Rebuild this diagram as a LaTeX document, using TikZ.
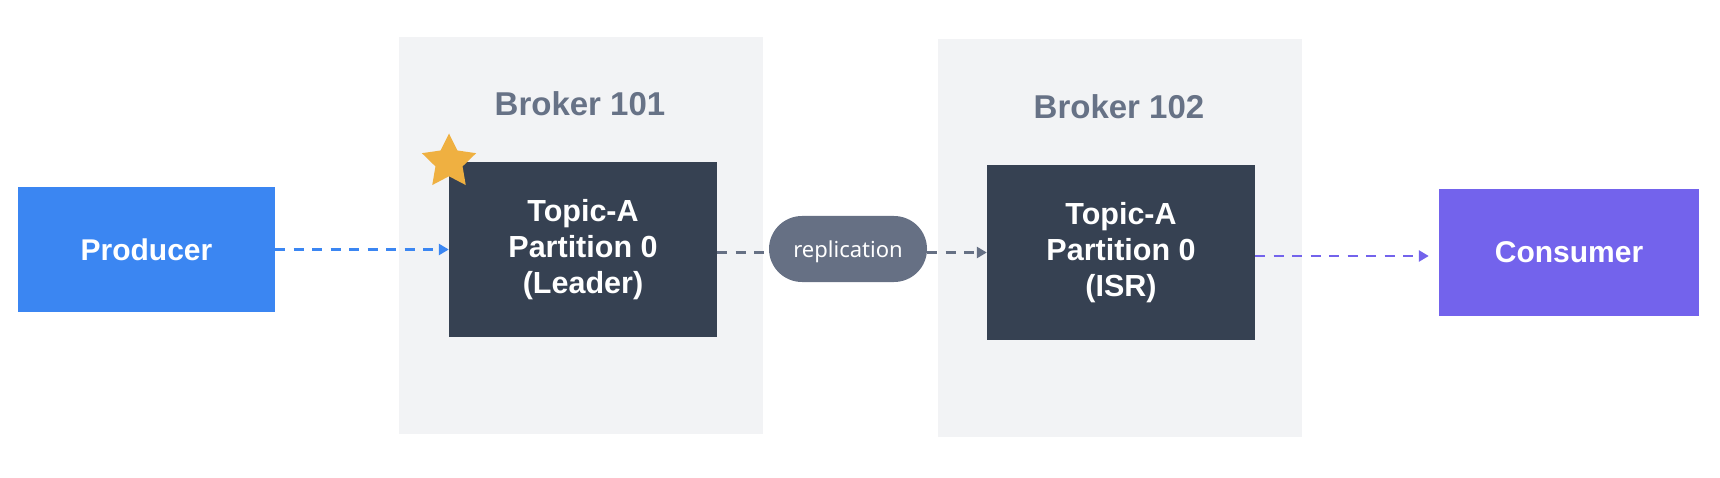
\documentclass[tikz,border=0pt]{standalone}
\usepackage{fontspec}
\setmainfont{Liberation Sans}
\newfontfamily\pillfont{Noto Sans}
\usetikzlibrary{shapes.geometric,arrows.meta}
\definecolor{prodblue}{HTML}{3B86F2}
\definecolor{consviolet}{HTML}{7363EC}
\definecolor{darkbox}{HTML}{364152}
\definecolor{brokerbg}{HTML}{F2F3F5}
\definecolor{titlegray}{HTML}{677286}
\definecolor{pillgray}{HTML}{667084}
\definecolor{stargold}{HTML}{EFB041}
\begin{document}
\begin{tikzpicture}[x=1pt,y=-1pt,
  brokerbox/.style={fill=brokerbg, draw=none, inner sep=0pt},
  partbox/.style={fill=darkbox, draw=none, inner sep=0pt, minimum width=268pt, minimum height=175pt,
    text=white, align=center, font=\fontsize{30.5}{36}\selectfont\bfseries},
  clientbox/.style={draw=none, inner sep=0pt, text=white, font=\fontsize{30}{34}\selectfont\bfseries},
  titletext/.style={text=titlegray, anchor=base, font=\fontsize{33}{40}\selectfont\bfseries},
  pillnode/.style={fill=pillgray, draw=none, rounded corners=33pt, minimum width=158pt, minimum height=66pt,
    inner sep=0pt, text=white, font=\fontsize{22}{26}\selectfont\pillfont},
  flow/.style={line width=2.8pt, dash pattern=on 10pt off 8.5pt},
  tipped/.style={-{Triangle[length=10pt,width=11pt]}}
]
\useasboundingbox (0,0) rectangle (1720,478);
% broker backgrounds
\node[brokerbox, minimum width=364pt, minimum height=397pt] (b101) at (581,235.5) {};
\node[brokerbox, minimum width=364pt, minimum height=398pt] (b102) at (1120,238) {};
\node[titletext] (t101) at (580,116) {Broker 101};
\node[titletext] (t102) at (1119,119) {Broker 102};
% partitions
\node[partbox] (leader) at (583,249.5) {Topic-A\\Partition 0\\(Leader)};
\node[partbox] (isr) at (1121,252.5) {Topic-A\\Partition 0\\(ISR)};
% star
\node[star, star points=5, star point ratio=2.0, minimum size=57pt, inner sep=0pt, fill=stargold, draw=none] (star) at (449,162) {};
% clients
\node[clientbox, fill=prodblue, minimum width=257pt, minimum height=125pt] (prod) at (146.5,249.5) {Producer};
\node[clientbox, fill=consviolet, minimum width=260pt, minimum height=127pt] (cons) at (1569,252.5) {Consumer};
% replication pill
\node[pillnode, text height=20pt, text depth=3.4pt] (repl) at (848,249) {replication};
% connectors
\draw[flow, tipped, prodblue] (prod.east) -- (leader.west);
\draw[flow, pillgray] (leader.east |- 0,252.5) -- (repl.west |- 0,252.5);
\draw[flow, tipped, pillgray] (repl.east |- 0,252.5) -- (isr.west |- 0,252.5);
\draw[flow, tipped, consviolet, shorten >=10pt] (isr.east |- 0,256) -- (cons.west |- 0,256);
\end{tikzpicture}
\end{document}
